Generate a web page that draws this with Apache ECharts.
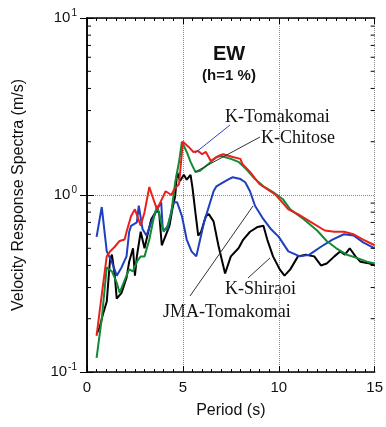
<!DOCTYPE html>
<html>
<head>
<meta charset="utf-8">
<script src="https://cdn.jsdelivr.net/npm/echarts@6/dist/echarts.min.js"></script>
<style>
  html, body { margin: 0; padding: 0; background: #fff; }
  #myChart0 { width: 386px; height: 427px; }
</style>
</head>
<body>
<div id="myChart0"></div>
<script>
// periods (s) and velocity response (m/s)
var redT = [0.5, 0.8, 1.03, 1.2, 1.45, 1.7, 1.96, 2.1, 2.3, 2.5, 2.6, 2.8, 3.0, 3.25, 3.4, 3.65, 3.85, 4.1, 4.4, 4.55, 4.8, 5.0, 5.3, 5.55, 5.8, 6.0, 6.2, 6.45, 6.85, 7.1, 7.6, 8.0, 8.1, 8.5, 9.0, 9.4, 9.85, 10.5, 11.0, 11.7, 12.4, 12.9, 13.4, 13.9, 14.4, 15]
var redV = [0.16, 0.29, 0.45, 0.48, 0.51, 0.55, 0.56, 0.64, 0.76, 0.83, 0.83, 0.67, 0.8, 1.11, 0.99, 0.83, 0.92, 1.05, 1.0, 1.08, 1.15, 2.0, 1.87, 1.75, 1.77, 1.7, 1.75, 1.56, 1.66, 1.7, 1.64, 1.6, 1.5, 1.35, 1.15, 1.08, 1.0, 0.83, 0.78, 0.7, 0.63, 0.62, 0.62, 0.6, 0.56, 0.52]

var greenT = [0.5, 0.77, 1.03, 1.3, 1.55, 1.7, 1.86, 2.06, 2.2, 2.4, 2.6, 2.8, 3.0, 3.25, 3.5, 3.66, 3.87, 4.0, 4.2, 4.4, 4.6, 4.8, 4.95, 5.2, 5.4, 5.65, 5.9, 6.35, 6.75, 7.0, 7.5, 7.9, 8.3, 8.76, 9.2, 9.7, 10.2, 10.6, 11.3, 12.0, 12.5, 13.0, 13.55, 14.1, 14.6, 15]
var greenV = [0.12, 0.2, 0.39, 0.37, 0.32, 0.28, 0.31, 0.35, 0.38, 0.37, 0.42, 0.45, 0.45, 0.56, 0.76, 0.87, 0.7, 0.62, 0.67, 0.8, 1.18, 1.54, 2.0, 1.75, 1.54, 1.35, 1.37, 1.5, 1.64, 1.66, 1.6, 1.54, 1.4, 1.23, 1.12, 1.04, 0.95, 0.83, 0.73, 0.63, 0.55, 0.5, 0.46, 0.44, 0.42, 0.41]

var blueT = [0.5, 0.77, 1.03, 1.29, 1.55, 1.8, 2.06, 2.2, 2.3, 2.6, 2.7, 2.9, 3.1, 3.35, 3.66, 3.87, 3.95, 4.2, 4.5, 4.7, 4.95, 5.2, 5.45, 5.7, 6.1, 6.6, 6.75, 7.1, 7.4, 7.6, 8.0, 8.25, 8.5, 8.76, 9.2, 9.6, 10.0, 10.5, 11.1, 11.6, 12.2, 12.8, 13.4, 13.9, 14.4, 15]
var blueV = [0.58, 0.855, 0.48, 0.42, 0.35, 0.39, 0.45, 0.62, 0.67, 0.7, 0.87, 0.64, 0.59, 0.7, 0.83, 0.91, 0.64, 0.64, 0.91, 0.91, 0.76, 0.56, 0.48, 0.45, 0.7, 1.05, 1.12, 1.18, 1.23, 1.26, 1.23, 1.18, 1.05, 0.87, 0.73, 0.64, 0.58, 0.48, 0.45, 0.46, 0.51, 0.56, 0.6, 0.59, 0.54, 0.5]

var blackT = [0.5, 0.67, 0.82, 1.03, 1.2, 1.3, 1.45, 1.55, 1.8, 2.06, 2.2, 2.4, 2.5, 2.6, 2.8, 3.0, 3.15, 3.35, 3.6, 3.76, 3.9, 4.1, 4.3, 4.45, 4.6, 4.7, 4.85, 5.05, 5.2, 5.4, 5.5, 5.65, 5.8, 5.95, 6.2, 6.35, 6.6, 6.85, 7.2, 7.5, 7.9, 8.15, 8.5, 8.9, 9.2, 9.4, 9.7, 10.05, 10.3, 10.6, 11.0, 11.4, 11.85, 12.2, 12.5, 12.9, 13.2, 13.45, 13.7, 14.0, 14.25, 14.75, 15]
var blackV = [0.164, 0.18, 0.21, 0.25, 0.43, 0.46, 0.35, 0.26, 0.28, 0.34, 0.42, 0.5, 0.35, 0.45, 0.62, 0.5, 0.59, 0.73, 0.81, 0.8, 0.52, 0.59, 0.67, 0.83, 0.99, 1.35, 1.2, 1.3, 1.22, 1.3, 1.1, 0.8, 0.59, 0.62, 0.76, 0.78, 0.71, 0.52, 0.36, 0.45, 0.5, 0.56, 0.62, 0.66, 0.67, 0.56, 0.45, 0.38, 0.35, 0.38, 0.45, 0.46, 0.45, 0.4, 0.41, 0.45, 0.48, 0.46, 0.5, 0.45, 0.42, 0.41, 0.4]

var xTicks = [0, 5, 10, 15]
var yMinorTicks = [0.2, 0.3, 0.4, 0.5, 0.6, 0.7, 0.8, 0.9, 2, 3, 4, 5, 6, 7, 8, 9]

function pairs(t, v) {
    return t.map(function (x, i) { return [x, v[i]] })
}

var sans = 'Liberation Sans'
var serif = 'Liberation Serif'

var myChart = echarts.init(document.getElementById('myChart0'))

function lineSeries(name, t, v, color) {
    return {
        name: name,
        type: 'line',
        data: pairs(t, v),
        symbol: 'none',
        smooth: false,
        lineStyle: { color: color, width: 2 },
        z: 3
    }
}

var axisLine = { show: true, lineStyle: { color: '#000', width: 1.5 } }

myChart.setOption({
    animation: false,
    grid: { left: 87, right: 9, top: 18, bottom: 55 },
    xAxis: [{
        type: 'value', min: 0, max: 15, interval: 5,
        name: 'Period (s)', nameLocation: 'middle', nameGap: 31,
        nameTextStyle: { fontFamily: sans, fontSize: 16, color: '#111' },
        axisLine: axisLine,
        axisTick: { inside: true, length: 6, lineStyle: { color: '#000' } },
        minorTick: { show: true, splitNumber: 10, length: 3, lineStyle: { color: '#000' } },
        axisLabel: {
            margin: 8, fontFamily: sans, fontSize: 15, color: '#111',
            formatter: function (val) { return xTicks.indexOf(val) >= 0 ? String(val) : '' }
        },
        splitLine: { show: true, lineStyle: { color: '#888', type: [1, 1], width: 1 } }
    }, {
        type: 'value', min: 0, max: 15, interval: 5, position: 'top',
        axisLine: axisLine,
        axisTick: { inside: true, length: 6, lineStyle: { color: '#000' } },
        minorTick: { show: true, splitNumber: 10, length: 3, lineStyle: { color: '#000' } },
        axisLabel: { show: false },
        splitLine: { show: false }
    }],
    yAxis: [{
        type: 'log', logBase: 10, min: 0.1, max: 10,
        name: 'Velocity Response Spectra (m/s)', nameLocation: 'middle', nameGap: 60,
        nameTextStyle: { fontFamily: sans, fontSize: 16, color: '#111' },
        axisLine: axisLine,
        axisTick: { inside: true, length: 7, lineStyle: { color: '#000' } },
        axisLabel: {
            margin: 10, color: '#111',
            formatter: function (val) {
                var e = Math.round(Math.log10(val))
                return '{b|10}{s|' + e + '}'
            },
            rich: {
                b: { fontFamily: sans, fontSize: 15, color: '#111' },
                s: { fontFamily: sans, fontSize: 10, color: '#111', padding: [0, 0, 9, 1] }
            }
        },
        splitLine: { show: true, lineStyle: { color: '#888', type: [1, 1], width: 1 } }
    }, {
        type: 'log', logBase: 10, min: 0.1, max: 10, position: 'right',
        axisLine: axisLine,
        axisTick: { inside: true, length: 7, lineStyle: { color: '#000' } },
        axisLabel: { show: false },
        splitLine: { show: false }
    }],
    series: [
        // minor log ticks on both vertical edges
        {
            type: 'custom',
            data: yMinorTicks.map(function (v) { return [0, v] }),
            clip: false,
            silent: true,
            z: 4,
            renderItem: function (params, api) {
                var l = api.coord([0, api.value(1)])
                var r = api.coord([15, api.value(1)])
                var st = { stroke: '#000', lineWidth: 1 }
                return {
                    type: 'group',
                    children: [
                        { type: 'line', shape: { x1: l[0], y1: l[1], x2: l[0] + 4, y2: l[1] }, style: st },
                        { type: 'line', shape: { x1: r[0], y1: r[1], x2: r[0] - 4, y2: r[1] }, style: st }
                    ]
                }
            }
        },
        lineSeries('K-Shiraoi', blackT, blackV, '#000000'),
        lineSeries('JMA-Tomakomai', blueT, blueV, '#1e3fc0'),
        lineSeries('K-Chitose', greenT, greenV, '#138a35'),
        lineSeries('K-Tomakomai', redT, redV, '#e8211c')
    ],
    graphic: [
        { type: 'text', x: 229, y: 54, style: { text: 'EW', font: 'bold 20px ' + sans, fill: '#111', align: 'center', verticalAlign: 'middle' } },
        { type: 'text', x: 229, y: 76, style: { text: '(h=1 %)', font: 'bold 15px ' + sans, fill: '#111', align: 'center', verticalAlign: 'middle' } },
        { type: 'text', x: 225, y: 117, style: { text: 'K-Tomakomai', font: '18px ' + serif, fill: '#111', verticalAlign: 'middle' } },
        { type: 'text', x: 261, y: 138, style: { text: 'K-Chitose', font: '18px ' + serif, fill: '#111', verticalAlign: 'middle' } },
        { type: 'text', x: 225, y: 289, style: { text: 'K-Shiraoi', font: '18px ' + serif, fill: '#111', verticalAlign: 'middle' } },
        { type: 'text', x: 163, y: 312, style: { text: 'JMA-Tomakomai', font: '18px ' + serif, fill: '#111', verticalAlign: 'middle' } },
        { type: 'line', shape: { x1: 230, y1: 125, x2: 195, y2: 153 }, style: { stroke: '#3040c0', lineWidth: 1 }, z: 10 },
        { type: 'line', shape: { x1: 260, y1: 137, x2: 195, y2: 172 }, style: { stroke: '#333', lineWidth: 1 }, z: 10 },
        { type: 'line', shape: { x1: 248, y1: 278, x2: 270, y2: 258 }, style: { stroke: '#333', lineWidth: 1 }, z: 10 },
        { type: 'line', shape: { x1: 190, y1: 296, x2: 253, y2: 206 }, style: { stroke: '#333', lineWidth: 1 }, z: 10 }
    ]
})
</script>
</body>
</html>
